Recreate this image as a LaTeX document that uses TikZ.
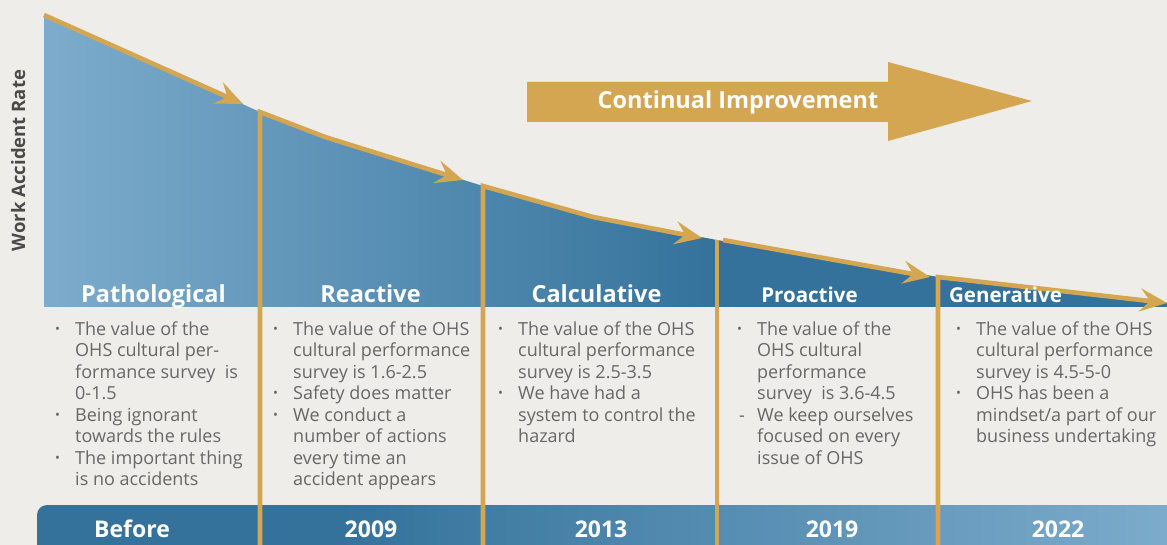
\documentclass[tikz,border=0pt]{standalone}
\usepackage{fontspec}
\setmainfont{Open Sans}
\usetikzlibrary{arrows.meta}
\definecolor{bg}{HTML}{EEEDE9}
\definecolor{gold}{HTML}{D4A651}
\definecolor{dblue}{HTML}{34729B}
\definecolor{lblue}{HTML}{7DACCC}
\definecolor{txt}{HTML}{676767}
\definecolor{axis}{HTML}{4A4A4A}
\pgfdeclarehorizontalshading{chartshade}{100bp}{color(0bp)=(lblue); color(25bp)=(lblue); color(55bp)=(dblue); color(100bp)=(dblue)}
\pgfdeclarehorizontalshading{barshade}{100bp}{color(0bp)=(dblue); color(38bp)=(dblue); color(74bp)=(lblue); color(100bp)=(lblue)}
\newcommand{\bu}{\makebox[20pt][l]{\hspace{0pt}\fontsize{13}{13}\selectfont\raisebox{2pt}{•}}}
\newcommand{\da}{\makebox[20pt][l]{\hspace{2pt}-}}
\newcommand{\ind}{\hspace*{20pt}}
\tikzset{
  goldline/.style={draw=gold, line width=4.6pt},
  tip/.style={-{Stealth[length=27pt,width=23pt,inset=10pt]}},
  stage/.style={text=white, font=\bfseries\fontsize{23.5}{26}\selectfont, anchor=base, inner sep=0pt},
  stagesm/.style={stage, font=\bfseries\fontsize{20.5}{24}\selectfont},
  year/.style={text=white, font=\bfseries\fontsize{23}{26}\selectfont, anchor=base, inner sep=0pt},
  col/.style={text=txt, font=\fontsize{18}{21.5}\selectfont, align=left, anchor=north west, inner sep=0pt},
}
\begin{document}
\begin{tikzpicture}[x=1pt,y=-1pt]
\useasboundingbox[fill=bg] (0,0) rectangle (1167,545);
% chart fill
\shade[shading=chartshade] (44,15) -- (260,112) -- (325,137) -- (483,186) -- (593,217) -- (717,240) -- (938,277) -- (1167,303) -- (1167,307) -- (44,307) -- cycle;
% bottom bar
\shade[shading=barshade, rounded corners=10pt] (37,505) rectangle (1200,565);
% continual improvement arrow
\fill[gold] (527,82) -- (888,82) -- (888,62) -- (1032,101) -- (888,141) -- (888,122) -- (527,122) -- cycle;
\node[text=white, font=\bfseries\fontsize{23.5}{26}\selectfont, anchor=base, inner sep=0pt] (ci) at (738,109) {Continual Improvement};
% gold lines
\coordinate (p0) at (44,15);
\coordinate (p1) at (243,104);
\coordinate (v1b) at (260,545);
\coordinate (v1t) at (260,112);
\coordinate (q1) at (325,137);
\coordinate (p2) at (463,180);
\coordinate (v2b) at (483,545);
\coordinate (v2t) at (483,186);
\coordinate (q2) at (593,217);
\coordinate (p3) at (702,238);
\coordinate (v3b) at (717,545);
\coordinate (v3t) at (717,240);
\coordinate (s4) at (723,240);
\coordinate (p4) at (930,277);
\coordinate (v4b) at (938,545);
\coordinate (v4t) at (938,277);
\coordinate (p5) at (1167,303);
\draw[goldline, tip] (p0) -- (p1);
\draw[goldline, tip] (v1b) -- (v1t) -- (q1) -- (p2);
\draw[goldline, tip] (v2b) -- (v2t) -- (q2) -- (p3);
\draw[goldline] (v3b) -- (v3t);
\draw[goldline, tip] (s4) -- (p4);
\draw[goldline, tip] (v4b) -- (v4t) -- (p5);
% axis label
\node[rotate=90, text=axis, font=\bfseries\fontsize{18.5}{22}\selectfont, anchor=base, inner sep=0pt] (ax) at (25,160.5) {Work Accident Rate};
% stage labels
\node[stage] (s1) at (153.5,302) {Pathological};
\node[stage] (s2) at (370.5,302) {Reactive};
\node[stage] (s3) at (596.5,302) {Calculative};
\node[stagesm] (s4l) at (809.5,302) {Proactive};
\node[stagesm] (s5l) at (1005.5,302) {Generative};
% columns
\node[col] (c1) at (55,320) {\strut\bu The value of the\\ \ind OHS cultural per-\\ \ind formance survey\ \ is\\ \ind 0-1.5\\ \bu Being ignorant\\ \ind towards the rules\\ \bu The important thing\\ \ind is no accidents};
\node[col] (c2) at (273,320) {\strut\bu The value of the OHS\\ \ind cultural performance\\ \ind survey is 1.6-2.5\\ \bu Safety does matter\\ \bu We conduct a\\ \ind number of actions\\ \ind every time an\\ \ind accident appears};
\node[col] (c3) at (498,320) {\strut\bu The value of the OHS\\ \ind cultural performance\\ \ind survey is 2.5-3.5\\ \bu We have had a\\ \ind system to control the\\ \ind hazard};
\node[col] (c4) at (737,320) {\strut\bu The value of the\\ \ind OHS cultural\\ \ind performance\\ \ind survey\ \ is 3.6-4.5\\ \da We keep ourselves\\ \ind focused on every\\ \ind issue of OHS};
\node[col] (c5) at (956,320) {\strut\bu The value of the OHS\\ \ind cultural performance\\ \ind survey is 4.5-5-0\\ \bu OHS has been a\\ \ind mindset/a part of our\\ \ind business undertaking};
% year labels
\node[year] (y0) at (132,537) {Before};
\node[year] (y1) at (371,537) {2009};
\node[year] (y2) at (601,537) {2013};
\node[year] (y3) at (832,537) {2019};
\node[year] (y4) at (1058,537) {2022};
\end{tikzpicture}
\end{document}
